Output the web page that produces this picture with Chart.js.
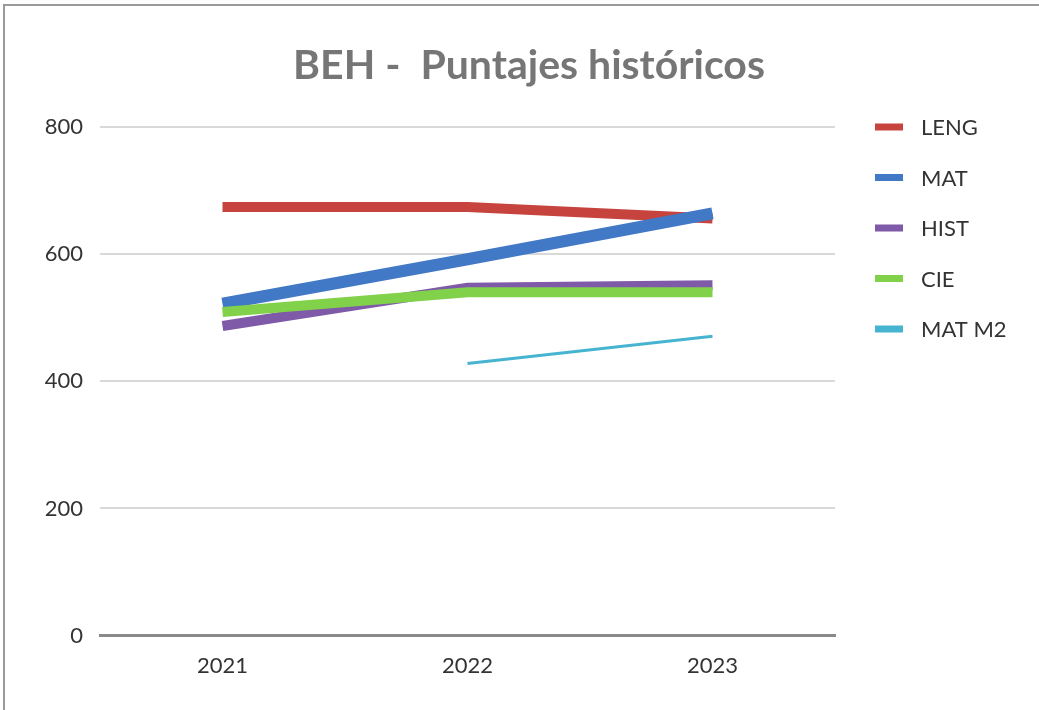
<!DOCTYPE html>
<html>
<head>
<meta charset="utf-8">
<script src="https://cdn.jsdelivr.net/npm/chart.js@4.4.1/dist/chart.umd.min.js"></script>
<style>
html,body{margin:0;padding:0;background:#fff;}
#wrap{position:relative;width:1039px;height:710px;}
canvas{display:block;}
</style>
</head>
<body>
<div id="wrap"><canvas id="c" width="1039" height="710"></canvas></div>
<script>
const titleText = 'BEH -  Puntajes históricos';
const categories = ['2021', '2022', '2023'];
const seriesNames = ['LENG', 'MAT', 'HIST', 'CIE', 'MAT M2'];
const leng = [674, 674, 656];
const mat = [522, 592, 664];
const hist = [487, 547, 551];
const cie = [509, 540, 540];
const matM2 = [null, 428, 471];
const yTicks = [0, 200, 400, 600, 800];

const colors = ['#c7433e', '#4279c6', '#7f5aa8', '#82d14a', '#46b4d0'];
const widths = [10, 12, 10, 10, 3];
const values = [leng, mat, hist, cie, matM2];

const datasets = seriesNames.map((n, i) => ({
  label: n,
  data: values[i],
  borderColor: colors[i],
  backgroundColor: colors[i],
  borderWidth: widths[i],
  borderCapStyle: 'butt',
  pointRadius: 0,
  tension: 0,
  spanGaps: false,
  order: seriesNames.length - i
}));

const deco = {
  id: 'deco',
  afterDraw(chart) {
    const ctx = chart.ctx;
    ctx.save();
    ctx.strokeStyle = '#9a9a9a';
    ctx.lineWidth = 2;
    ctx.beginPath();
    ctx.moveTo(4, 1000); ctx.lineTo(4, 5); ctx.lineTo(1100, 5);
    ctx.stroke();
    ctx.fillStyle = '#767676';
    ctx.font = 'bold 41px Lato';
    ctx.textAlign = 'center';
    ctx.textBaseline = 'middle';
    ctx.fillText(titleText, 529, 66);
    ctx.font = '22px Lato';
    ctx.textAlign = 'left';
    chart.data.datasets.forEach((ds, i) => {
      const y = 127 + i * 50.5;
      ctx.fillStyle = ds.borderColor;
      ctx.fillRect(875, y - 3.5, 28, 7);
      ctx.fillStyle = '#333';
      ctx.fillText(ds.label, 921, y + 1);
    });
    ctx.restore();
  }
};

new Chart(document.getElementById('c'), {
  type: 'line',
  data: { labels: categories, datasets },
  options: {
    responsive: false,
    animation: false,
    layout: { padding: { left: 10, right: 204, top: 127, bottom: 14 } },
    plugins: { legend: { display: false }, title: { display: false }, tooltip: { enabled: false } },
    scales: {
      x: {
        offset: true,
        grid: { display: false, drawTicks: false },
        border: { display: true, color: '#8a8a8a', width: 3 },
        ticks: { color: '#333', font: { family: 'Lato', size: 22 }, padding: 17 }
      },
      y: {
        min: 0, max: 800,
        afterBuildTicks(axis) { axis.ticks = yTicks.map(v => ({ value: v })); },
        afterFit(axis) { axis.width = 90; },
        grid: { color: '#d9d9d9', lineWidth: 2, drawTicks: false },
        border: { display: false },
        ticks: { color: '#333', font: { family: 'Lato', size: 22 }, padding: 17 }
      }
    }
  },
  plugins: [deco]
});
</script>
</body>
</html>
